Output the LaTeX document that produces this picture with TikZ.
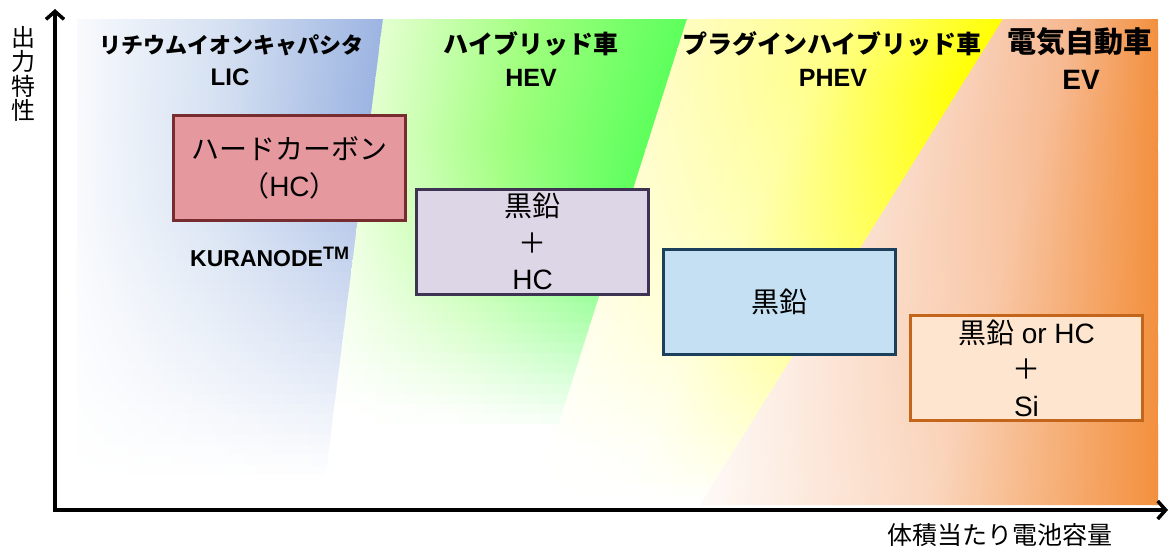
\documentclass[tikz,border=0pt]{standalone}
\usepackage{fontspec}
\setmainfont{Liberation Sans}
\newfontfamily\jp{Noto Sans CJK JP}
\usetikzlibrary{arrows.meta}

\definecolor{bandBlueL}{HTML}{F8FAFD}
\definecolor{bandBlueM}{HTML}{D3DFF1}
\definecolor{bandBlueR}{HTML}{9CB4E2}
\definecolor{bandGreenL}{HTML}{E4FFD0}
\definecolor{bandGreenM}{HTML}{9EFF7C}
\definecolor{bandGreenR}{HTML}{5CFF5C}
\definecolor{bandYelL}{HTML}{FFFDC0}
\definecolor{bandYelM}{HTML}{FFFF8A}
\definecolor{bandYelR}{HTML}{FFFF00}
\definecolor{bandOrL}{HTML}{F8CBB0}
\definecolor{bandOrM}{HTML}{F6B58A}
\definecolor{bandOrR}{HTML}{F3903E}

\definecolor{hcFill}{HTML}{E5999F}
\definecolor{hcLine}{HTML}{772C2F}
\definecolor{mixFill}{HTML}{DDD6E6}
\definecolor{mixLine}{HTML}{3E3353}
\definecolor{grFill}{HTML}{C4E0F2}
\definecolor{grLine}{HTML}{1C3F5C}
\definecolor{siFill}{HTML}{FDE5CF}
\definecolor{siLine}{HTML}{C3661C}

% one band = 48 horizontal slices, each shaded left->right and faded to white downward
\newcommand\drawband[7]{%
\foreach \bi in {0,...,47}{%
 \pgfmathsetmacro\bta{\bi/48}%
 \pgfmathsetmacro\btm{(\bi+0.5)/48}%
 \pgfmathsetmacro\bya{19+486*\bta}%
 \pgfmathsetmacro\byb{min(505,19+486*((\bi+1)/48)+0.8)}%
 \pgfmathsetmacro\btbb{(\byb-19)/486}%
 \pgfmathsetmacro\bxla{#4+(#5-#4)*\bta}%
 \pgfmathsetmacro\bxlb{#4+(#5-#4)*\btbb}%
 \pgfmathsetmacro\bxra{#6+(#7-#6)*\bta}%
 \pgfmathsetmacro\bxrb{#6+(#7-#6)*\btbb}%
 \pgfmathtruncatemacro\bpl{100*(1-max(0,min(1,(\btm-\faL)/(\fbL-\faL))))}%
 \pgfmathtruncatemacro\bpr{100*(1-max(0,min(1,(\btm-\faR)/(\fbR-\faR))))}%
 \pgfmathtruncatemacro\bpm{(\bpl+\bpr)/2}%
 \colorlet{sliceL}{#1!\bpl!white}%
 \colorlet{sliceM}{#2!\bpm!white}%
 \colorlet{sliceR}{#3!\bpr!white}%
 \shade[left color=sliceL, right color=sliceR, middle color=sliceM]
   (\bxla,\bya) -- (\bxra,\bya) -- (\bxrb,\byb) -- (\bxlb,\byb) -- cycle;
}}

\begin{document}
\begin{tikzpicture}[x=1pt,y=-1pt,
  matbox/.style={draw, line width=3pt, minimum width=232pt, minimum height=105pt,
    inner sep=0pt, align=center, font=\fontsize{28}{36.5}\selectfont},
  headjp/.style={font=\jp\bfseries\fontsize{#1}{#1}\selectfont, inner sep=0pt},
  headlat/.style={font=\bfseries\fontsize{#1}{#1}\selectfont, inner sep=0pt},
  axislabel/.style={font=\jp\fontsize{24}{24.5}\selectfont, inner sep=0pt, align=center},
  axisline/.style={line width=3.5pt, line join=miter,
    {Straight Barb[length=8pt,width=18pt]}-{Straight Barb[length=8pt,width=18pt]}}
]
\useasboundingbox (0,0) rectangle (1170,547);

% background bands
\def\faL{0.4}\def\fbL{0.95}\def\faR{0.2}\def\fbR{0.95}
\drawband{bandBlueL}{bandBlueM}{bandBlueR}{77}{77}{384}{323}
\def\faL{0.25}\def\fbL{0.8}\def\faR{0.4}\def\fbR{0.85}
\drawband{bandGreenL}{bandGreenM}{bandGreenR}{383}{322}{688}{534}
\def\faL{0.1}\def\fbL{0.9}\def\faR{0.15}\def\fbR{1.0}
\drawband{bandYelL}{bandYelM}{bandYelR}{687}{533}{1004}{701}
\def\faL{0.0}\def\fbL{1.1}\def\faR{2}\def\fbR{3}
\drawband{bandOrL}{bandOrM}{bandOrR}{1003}{700}{1158}{1158}

% axes
\coordinate (origin) at (55,510);
\coordinate (ytip) at (55,9);
\coordinate (xtip) at (1168,510);
\draw[axisline] (ytip) -- (origin) -- (xtip);

\node[axislabel] (ylab) at (23.5,74) {出\\力\\特\\性};
\node[axislabel, font=\jp\fontsize{25}{25}\selectfont] (xlab) at (1000,535) {体積当たり電池容量};

% headings
\node[headjp=22] (licjp) at (231,45) {リチウムイオンキャパシタ};
\node[headlat=24] (lic) at (230,77) {LIC};
\node[headjp=25] (hevjp) at (531,44) {ハイブリッド車};
\node[headlat=25] (hev) at (531,78) {HEV};
\node[headjp=25] (phevjp) at (832,44) {プラグインハイブリッド車};
\node[headlat=25] (phev) at (833,78) {PHEV};
\node[headjp=29] (evjp) at (1080,42) {電気自動車};
\node[headlat=28] (ev) at (1081,80) {EV};

% material boxes
\node[matbox, fill=hcFill, draw=hcLine] (hc) at (289.5,168)
  {{\jp ハードカーボン}\\{\jp （}HC{\jp ）}};
\node[matbox, fill=mixFill, draw=mixLine] (mix) at (532.5,241.5)
  {{\jp 黒鉛}\\{\jp ＋}\\HC};
\node[matbox, fill=grFill, draw=grLine] (gr) at (779.5,301.5)
  {{\jp 黒鉛}};
\node[matbox, fill=siFill, draw=siLine] (si) at (1026.5,368)
  {{\jp 黒鉛} or HC\\{\jp ＋}\\Si};

\node[headlat=23, anchor=west] (kura) at (190,257)
  {KURANODE\raisebox{0.3em}{\fontsize{18}{18}\selectfont TM}};
\end{tikzpicture}
\end{document}
